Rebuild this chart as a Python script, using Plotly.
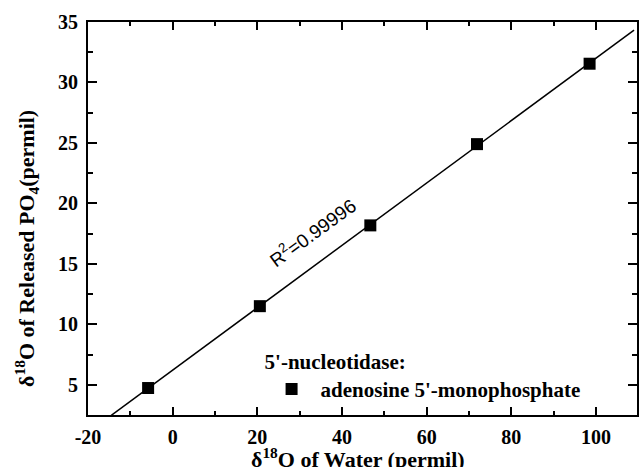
import numpy as np
import plotly.graph_objects as go

# Data
water_d18O = [-5.8, 20.6, 46.7, 71.9, 98.5]
po4_d18O = [4.73, 11.5, 18.18, 24.9, 31.55]
series_name = "adenosine 5'-monophosphate"
legend_title = "5'-nucleotidase:"
r2_label = "R<sup>2</sup>=0.99996"
x_ticks = [-20, 0, 20, 40, 60, 80, 100]
x_tick_labels = ["-20", "0", "20", "40", "60", "80", "100"]
y_ticks = [5, 10, 15, 20, 25, 30, 35]
y_tick_labels = ["5", "10", "15", "20", "25", "30", "35"]
fit_x_span = [-14.5, 109.0]

slope, intercept = np.polyfit(water_d18O, po4_d18O, 1)
fit_x = np.array(fit_x_span)
fit_y = slope * fit_x + intercept

serif = "Liberation Serif, Times New Roman, serif"
sans = "Liberation Sans, Arial, sans-serif"

fig = go.Figure()
fig.add_trace(go.Scatter(x=fit_x, y=fit_y, mode="lines",
                         line=dict(color="black", width=1.5),
                         showlegend=False, hoverinfo="skip"))
fig.add_trace(go.Scatter(x=water_d18O, y=po4_d18O, mode="markers",
                         marker=dict(symbol="square", size=12, color="black"),
                         name=series_name))

axis_common = dict(showgrid=False, zeroline=False, showline=True,
                   linecolor="black", linewidth=2, ticks="inside",
                   tickcolor="black", tickwidth=1.5, mirror="allticks",
                   tickfont=dict(family=serif, size=20, color="black", weight="bold"))

fig.update_xaxes(range=[-20, 109.7], tickvals=x_ticks, ticktext=x_tick_labels, ticklen=8,
                 ticklabelstandoff=3,
                 minor=dict(dtick=10, ticks="inside", ticklen=4, tickcolor="black", tickwidth=1.5),
                 **axis_common)
fig.update_yaxes(range=[2.5, 35], tickvals=y_ticks, ticktext=y_tick_labels, ticklen=9,
                 ticklabelstandoff=4,
                 minor=dict(dtick=2.5, ticks="inside", ticklen=5, tickcolor="black", tickwidth=1.5),
                 **axis_common)

fig.add_annotation(x=33.0, y=17.6, xref="x", yref="y", text=r2_label,
                   showarrow=False, textangle=-36,
                   font=dict(family=sans, size=19, color="black"))

fig.add_annotation(x=0.492, y=-0.11, xref="paper", yref="paper",
                   xanchor="center", yanchor="middle",
                   text="δ<sup>18</sup>O of Water (permil)", showarrow=False,
                   font=dict(family=serif, size=22, color="black", weight="bold"))
fig.add_annotation(x=-0.112, y=0.424, xref="paper", yref="paper",
                   xanchor="center", yanchor="middle",
                   text="δ<sup>18</sup>O of Released PO<sub>4</sub>(permil)", showarrow=False,
                   textangle=-90,
                   font=dict(family=serif, size=22, color="black", weight="bold"))

fig.update_layout(
    width=639, height=467,
    margin=dict(l=88, r=0, t=22, b=52),
    paper_bgcolor="white", plot_bgcolor="white",
    showlegend=True,
    legend=dict(x=0.318, y=0.187, xanchor="left", yanchor="top",
                bgcolor="rgba(0,0,0,0)", itemwidth=48,
                title=dict(text=legend_title,
                           font=dict(family=serif, size=21, color="black", weight="bold")),
                font=dict(family=serif, size=21, color="black", weight="bold")),
)

fig.write_html("out.html", config={"displayModeBar": False},
               post_script="document.body.style.margin='0';")
